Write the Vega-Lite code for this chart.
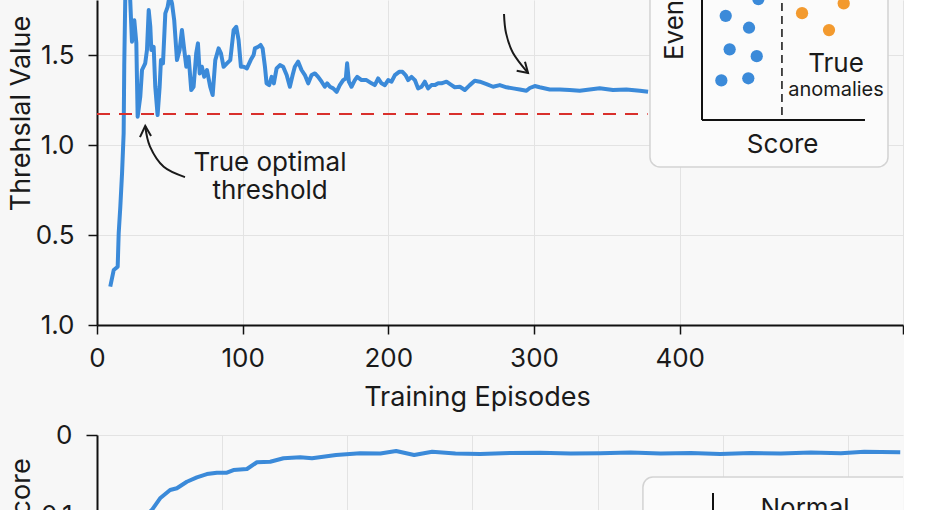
{
  "$schema": "https://vega.github.io/schema/vega-lite/v6.json",
  "background": "#f7f7f7",
  "padding": {"left": 7, "top": 0, "right": 0, "bottom": 0},
  "bounds": "flush",
  "spacing": 110,
  "config": {
    "view": {"stroke": null, "fill": "#f8f8f8"},
    "font": "Inter",
    "axis": {
      "domainColor": "#111", "domainWidth": 2, "tickColor": "#111", "tickWidth": 1.5,
      "gridColor": "#e3e3e3", "gridWidth": 1,
      "labelFont": "Inter", "titleFont": "Inter", "labelFontSize": 26, "titleFontSize": 27,
      "titleFontWeight": "normal", "labelColor": "#1a1a1a", "titleColor": "#1a1a1a"
    },
    "text": {"font": "Inter", "color": "#1a1a1a"}
  },
  "datasets": {
    "thr": [
      {"ep":9.1,"v":0.213},{"ep":11.5,"v":0.306},{"ep":14.2,"v":0.324},{"ep":14.9,"v":0.511},{"ep":16.0,"v":0.657},
      {"ep":17.2,"v":0.844},{"ep":18.3,"v":1.067},{"ep":18.7,"v":1.435},{"ep":19.6,"v":1.92},{"ep":20.6,"v":1.97},
      {"ep":22.0,"v":1.86},{"ep":22.8,"v":1.806},{"ep":24.0,"v":1.574},{"ep":25.6,"v":1.694},{"ep":27.0,"v":1.567},
      {"ep":27.9,"v":1.157},{"ep":29.7,"v":1.268},{"ep":30.9,"v":1.417},{"ep":33.1,"v":1.454},{"ep":34.3,"v":1.528},
      {"ep":35.5,"v":1.75},{"ep":36.6,"v":1.657},{"ep":37.3,"v":1.528},{"ep":38.9,"v":1.546},{"ep":40.0,"v":1.324},
      {"ep":41.6,"v":1.167},{"ep":43.0,"v":1.324},{"ep":43.9,"v":1.472},{"ep":45.3,"v":1.454},{"ep":46.9,"v":1.732},
      {"ep":48.5,"v":1.768},{"ep":49.9,"v":1.833},{"ep":51.5,"v":1.787},{"ep":53.0,"v":1.694},{"ep":54.9,"v":1.472},
      {"ep":56.7,"v":1.528},{"ep":58.3,"v":1.639},{"ep":59.9,"v":1.528},{"ep":61.3,"v":1.435},{"ep":62.9,"v":1.491},
      {"ep":64.7,"v":1.306},{"ep":66.3,"v":1.324},{"ep":68.1,"v":1.509},{"ep":69.3,"v":1.565},{"ep":70.5,"v":1.398},
      {"ep":72.0,"v":1.435},{"ep":73.6,"v":1.379},{"ep":75.5,"v":1.417},{"ep":77.7,"v":1.324},{"ep":79.4,"v":1.278},
      {"ep":81.2,"v":1.472},{"ep":83.5,"v":1.537},{"ep":85.1,"v":1.509},{"ep":86.9,"v":1.435},{"ep":89.2,"v":1.454},
      {"ep":91.5,"v":1.472},{"ep":93.8,"v":1.639},{"ep":95.6,"v":1.657},{"ep":97.2,"v":1.583},{"ep":98.8,"v":1.435},
      {"ep":100.7,"v":1.435},{"ep":102.9,"v":1.426},{"ep":105.5,"v":1.472},{"ep":107.5,"v":1.5},{"ep":108.4,"v":1.537},
      {"ep":110.7,"v":1.546},{"ep":112.3,"v":1.556},{"ep":113.7,"v":1.537},{"ep":115.3,"v":1.435},{"ep":116.4,"v":1.343},
      {"ep":118.2,"v":1.333},{"ep":119.9,"v":1.379},{"ep":121.4,"v":1.343},{"ep":123.3,"v":1.426},{"ep":125.6,"v":1.444},
      {"ep":127.8,"v":1.435},{"ep":130.2,"v":1.389},{"ep":132.4,"v":1.324},{"ep":134.3,"v":1.389},{"ep":135.8,"v":1.435},
      {"ep":138.1,"v":1.463},{"ep":140.4,"v":1.417},{"ep":142.7,"v":1.389},{"ep":145.0,"v":1.343},{"ep":147.3,"v":1.389},
      {"ep":149.6,"v":1.398},{"ep":151.8,"v":1.379},{"ep":154.2,"v":1.352},{"ep":156.4,"v":1.324},{"ep":158.0,"v":1.343},
      {"ep":159.9,"v":1.324},{"ep":162.1,"v":1.315},{"ep":164.5,"v":1.296},{"ep":166.7,"v":1.333},{"ep":169.0,"v":1.361},
      {"ep":170.8,"v":1.37},{"ep":171.7,"v":1.454},{"ep":172.9,"v":1.352},{"ep":174.7,"v":1.324},{"ep":177.0,"v":1.361},
      {"ep":178.6,"v":1.379},{"ep":181.6,"v":1.361},{"ep":185.0,"v":1.361},{"ep":188.5,"v":1.343},{"ep":190.7,"v":1.333},
      {"ep":193.0,"v":1.37},{"ep":195.3,"v":1.343},{"ep":197.6,"v":1.333},{"ep":199.9,"v":1.361},{"ep":202.2,"v":1.352},
      {"ep":204.5,"v":1.389},{"ep":207.4,"v":1.407},{"ep":209.7,"v":1.407},{"ep":211.8,"v":1.389},{"ep":213.6,"v":1.361},
      {"ep":215.9,"v":1.379},{"ep":218.2,"v":1.361},{"ep":220.4,"v":1.315},{"ep":222.8,"v":1.324},{"ep":225.0,"v":1.352},
      {"ep":227.3,"v":1.315},{"ep":229.6,"v":1.333},{"ep":231.9,"v":1.333},{"ep":234.2,"v":1.343},{"ep":236.5,"v":1.343},
      {"ep":239.9,"v":1.352},{"ep":243.4,"v":1.333},{"ep":245.6,"v":1.321},{"ep":249.1,"v":1.324},{"ep":252.5,"v":1.306},
      {"ep":255.9,"v":1.333},{"ep":259.3,"v":1.357},{"ep":262.8,"v":1.352},{"ep":267.4,"v":1.339},{"ep":271.9,"v":1.324},
      {"ep":276.5,"v":1.333},{"ep":281.1,"v":1.321},{"ep":285.6,"v":1.315},{"ep":290.2,"v":1.309},{"ep":294.8,"v":1.302},
      {"ep":297.1,"v":1.317},{"ep":300.5,"v":1.328},{"ep":303.9,"v":1.321},{"ep":310.8,"v":1.309},{"ep":317.7,"v":1.309},
      {"ep":324.5,"v":1.306},{"ep":331.4,"v":1.302},{"ep":338.2,"v":1.309},{"ep":345.1,"v":1.315},{"ep":354.2,"v":1.306},
      {"ep":363.4,"v":1.309},{"ep":372.6,"v":1.302},{"ep":378.3,"v":1.296}
    ],
    "score": [
      {"ep":36,"s":0.105},{"ep":43.8,"s":0.0938},{"ep":50.4,"s":0.0791},{"ep":58.4,"s":0.0688},{"ep":63.8,"s":0.0666},
      {"ep":71.8,"s":0.0584},{"ep":79.8,"s":0.0529},{"ep":87.8,"s":0.0488},{"ep":95.8,"s":0.0471},{"ep":103.8,"s":0.0471},
      {"ep":109.0,"s":0.0438},{"ep":119.8,"s":0.0425},{"ep":127.8,"s":0.0341},{"ep":138.4,"s":0.0334},{"ep":149.0,"s":0.0291},
      {"ep":162.4,"s":0.0279},{"ep":171.8,"s":0.0291},{"ep":191.0,"s":0.025},{"ep":210.2,"s":0.0229},{"ep":226.4,"s":0.0231},
      {"ep":239.0,"s":0.02},{"ep":253.4,"s":0.025},{"ep":267.8,"s":0.0209},{"ep":286.4,"s":0.0231},{"ep":306.1,"s":0.0238},
      {"ep":330.4,"s":0.0225},{"ep":354.1,"s":0.0221},{"ep":378.4,"s":0.0231},{"ep":402.0,"s":0.0229},{"ep":426.4,"s":0.0219},
      {"ep":450.4,"s":0.0231},{"ep":474.4,"s":0.0225},{"ep":497.9,"s":0.0238},{"ep":522.4,"s":0.0225},{"ep":546.4,"s":0.0231},
      {"ep":570.4,"s":0.0219},{"ep":594.4,"s":0.0229},{"ep":613.0,"s":0.0209},{"ep":626.4,"s":0.0213},{"ep":641.8,"s":0.0216}
    ],
    "arrows": [
      {"g":"a1","o":0,"ep":60.4,"v":0.822},{"g":"a1","o":1,"ep":45.8,"v":0.879},{"g":"a1","o":2,"ep":36.4,"v":0.991},{"g":"a1","o":3,"ep":33.1,"v":1.106},
      {"g":"a2","o":0,"ep":279.4,"v":1.728},{"g":"a2","o":1,"ep":280.8,"v":1.622},{"g":"a2","o":2,"ep":285.6,"v":1.511},{"g":"a2","o":3,"ep":295.9,"v":1.4}
    ],
    "heads": [
      {"g":"h1","o":0,"ep":29.5,"v":1.044},{"g":"h1","o":1,"ep":33.1,"v":1.106},{"g":"h1","o":2,"ep":37.1,"v":1.05},
      {"g":"h2","o":0,"ep":288.1,"v":1.413},{"g":"h2","o":1,"ep":295.9,"v":1.4},{"g":"h2","o":2,"ep":293.8,"v":1.463}
    ],
    "dots": [
      {"ep":431.6,"v":1.718,"cls":"Normal"},{"ep":447.6,"v":1.652,"cls":"Normal"},{"ep":434.3,"v":1.532,"cls":"Normal"},
      {"ep":452.9,"v":1.494,"cls":"Normal"},{"ep":428.6,"v":1.359,"cls":"Normal"},{"ep":447.1,"v":1.371,"cls":"Normal"},
      {"ep":454.0,"v":1.811,"cls":"Normal"},
      {"ep":484.0,"v":1.733,"cls":"Anomaly"},{"ep":512.6,"v":1.787,"cls":"Anomaly"},{"ep":502.5,"v":1.639,"cls":"Anomaly"}
    ]
  },
  "vconcat": [
    {
      "width": 806,
      "height": 325,
      "layer": [
        {
          "data": {"name": "thr"},
          "mark": {"type": "line", "color": "#3b8ad9", "strokeWidth": 4, "clip": true, "strokeJoin": "round"},
          "encoding": {
            "x": {"field": "ep", "type": "quantitative", "scale": {"domain": [0, 553.3], "nice": false},
              "axis": {"values": [0, 100, 200, 300, 400, 553.3], "tickSize": 9, "labelPadding": 11,
                "labelExpr": "datum.value > 450 ? '' : datum.label", "labelFlush": false,
                "title": "Training Episodes", "titleAnchor": null, "titleAlign": "center", "titleBaseline": "alphabetic", "titleX": 380, "titleY": 80}},
            "y": {"field": "v", "type": "quantitative", "scale": {"domain": [0, 1.806], "nice": false, "zero": false},
              "axis": {"values": [0, 0.5, 1, 1.5], "tickSize": 9, "labelPadding": 14,
                "labelExpr": "datum.value == 0 ? '1.0' : format(datum.value, '.1f')",
                "title": "Threhslal Value", "titleAngle": 270, "titleAnchor": null, "titleAlign": "center", "titleBaseline": "alphabetic", "titleX": -68, "titleY": 113}}
          }
        },
        {
          "data": {"values": [{"x0": 0, "x1": 378, "v": 1.172}]},
          "mark": {"type": "rule", "color": "#d9302c", "strokeWidth": 2, "strokeDash": [13, 9]},
          "encoding": {"x": {"field": "x0", "type": "quantitative"}, "x2": {"field": "x1"}, "y": {"field": "v", "type": "quantitative"}}
        },
        {
          "data": {"name": "arrows"},
          "mark": {"type": "line", "color": "#1a1a1a", "strokeWidth": 2, "interpolate": "cardinal"},
          "encoding": {"x": {"field": "ep", "type": "quantitative"}, "y": {"field": "v", "type": "quantitative"}, "detail": {"field": "g"}, "order": {"field": "o"}}
        },
        {
          "data": {"name": "heads"},
          "mark": {"type": "line", "color": "#1a1a1a", "strokeWidth": 2},
          "encoding": {"x": {"field": "ep", "type": "quantitative"}, "y": {"field": "v", "type": "quantitative"}, "detail": {"field": "g"}, "order": {"field": "o"}}
        },
        {
          "data": {"values": [{"ep": 118.8, "v": 0.9, "t": "True optimal"}, {"ep": 118.8, "v": 0.744, "t": "threshold"}]},
          "mark": {"type": "text", "fontSize": 26, "align": "center", "baseline": "middle"},
          "encoding": {"x": {"field": "ep", "type": "quantitative"}, "y": {"field": "v", "type": "quantitative"}, "text": {"field": "t"}}
        },
        {
          "data": {"values": [{"x0": 379.6, "x1": 543.0, "y0": 0.878, "y1": 2.0}]},
          "mark": {"type": "rect", "fill": "#fbfbfb", "stroke": "#d3d3d3", "strokeWidth": 1.5, "cornerRadius": 10, "clip": true},
          "encoding": {"x": {"field": "x0", "type": "quantitative"}, "x2": {"field": "x1"}, "y": {"field": "y0", "type": "quantitative"}, "y2": {"field": "y1"}}
        },
        {
          "data": {"values": [{"x0": 415.3, "x1": 415.3, "y0": 1.139, "y1": 1.806}, {"x0": 415.3, "x1": 527.2, "y0": 1.139, "y1": 1.139}]},
          "mark": {"type": "rule", "color": "#111", "strokeWidth": 2, "clip": true},
          "encoding": {"x": {"field": "x0", "type": "quantitative"}, "x2": {"field": "x1"}, "y": {"field": "y0", "type": "quantitative"}, "y2": {"field": "y1"}}
        },
        {
          "data": {"values": [{"x0": 470.2, "y0": 1.167, "y1": 1.806}]},
          "mark": {"type": "rule", "color": "#111", "strokeWidth": 1.5, "strokeDash": [8, 5], "clip": true},
          "encoding": {"x": {"field": "x0", "type": "quantitative"}, "y": {"field": "y0", "type": "quantitative"}, "y2": {"field": "y1"}}
        },
        {
          "data": {"name": "dots"},
          "mark": {"type": "point", "filled": true, "opacity": 1, "size": 150, "clip": true},
          "encoding": {
            "x": {"field": "ep", "type": "quantitative"}, "y": {"field": "v", "type": "quantitative"},
            "color": {"field": "cls", "type": "nominal", "scale": {"domain": ["Normal", "Anomaly"], "range": ["#3b8ad9", "#f39a2e"]}, "legend": null}
          }
        },
        {
          "data": {"values": [
            {"ep": 507.3, "v": 1.45, "t": "True", "fs": 26},
            {"ep": 507.3, "v": 1.306, "t": "anomalies", "fs": 20},
            {"ep": 470.7, "v": 1.0, "t": "Score", "fs": 26}
          ]},
          "mark": {"type": "text", "align": "center", "baseline": "middle", "fontSize": 26},
          "encoding": {"x": {"field": "ep", "type": "quantitative"}, "y": {"field": "v", "type": "quantitative"}, "text": {"field": "t"},
            "size": {"field": "fs", "type": "quantitative", "scale": null, "legend": null}}
        },
        {
          "data": {"values": [{"ep": 402.3, "v": 1.472, "t": "Events"}]},
          "mark": {"type": "text", "angle": 270, "align": "left", "baseline": "alphabetic", "fontSize": 26, "clip": true},
          "encoding": {"x": {"field": "ep", "type": "quantitative"}, "y": {"field": "v", "type": "quantitative"}, "text": {"field": "t"}}
        }
      ]
    },
    {
      "width": 806,
      "height": 80,
      "layer": [
        {
          "data": {"name": "score"},
          "mark": {"type": "line", "color": "#3b8ad9", "strokeWidth": 4, "clip": true, "strokeJoin": "round"},
          "encoding": {
            "x": {"field": "ep", "type": "quantitative", "scale": {"domain": [0, 644], "nice": false},
              "axis": {"values": [0, 100, 200, 300, 400, 500, 600], "tickSize": 9, "labelPadding": 12, "title": "Training Episodes"}},
            "y": {"field": "s", "type": "quantitative", "scale": {"domain": [0, 0.1], "reverse": true, "nice": false},
              "axis": {"values": [0, 0.1], "tickSize": 11, "labelPadding": 14,
                "labelExpr": "datum.value == 0 ? '0' : format(datum.value, '.1f')",
                "title": "Score", "titleAngle": 270, "titleAnchor": null, "titleAlign": "center", "titleBaseline": "alphabetic", "titleX": -68, "titleY": 60}}
          }
        },
        {
          "data": {"values": [{"x0": 436.2, "x1": 700, "y0": 0.0525, "y1": 0.2}]},
          "mark": {"type": "rect", "fill": "#fbfbfb", "stroke": "#d3d3d3", "strokeWidth": 1.5, "cornerRadius": 10, "clip": true},
          "encoding": {"x": {"field": "x0", "type": "quantitative"}, "x2": {"field": "x1"}, "y": {"field": "y0", "type": "quantitative"}, "y2": {"field": "y1"}}
        },
        {
          "data": {"values": [{"x0": 492.2, "y0": 0.0725, "y1": 0.12}]},
          "mark": {"type": "rule", "color": "#111", "strokeWidth": 2, "clip": true},
          "encoding": {"x": {"field": "x0", "type": "quantitative"}, "y": {"field": "y0", "type": "quantitative"}, "y2": {"field": "y1"}}
        },
        {
          "data": {"values": [{"ep": 565.7, "v": 0.1025, "t": "Normal"}]},
          "mark": {"type": "text", "align": "center", "baseline": "alphabetic", "fontSize": 26},
          "encoding": {"x": {"field": "ep", "type": "quantitative"}, "y": {"field": "v", "type": "quantitative"}, "text": {"field": "t"}}
        }
      ]
    }
  ]
}
